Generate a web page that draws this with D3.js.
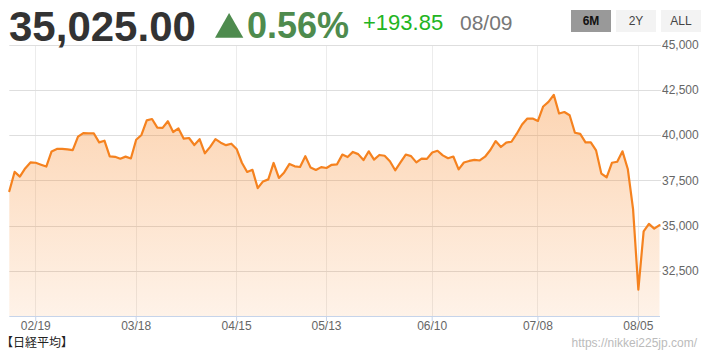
<!DOCTYPE html>
<html>
<head>
<meta charset="utf-8">
<script src="https://cdn.jsdelivr.net/npm/d3@7"></script>
<style>
html,body{margin:0;padding:0;background:#fff;}
svg{display:block;font-family:"Liberation Sans",Arial,sans-serif;}
</style>
</head>
<body>
<svg id="chart" width="710" height="351"></svg>
<script>
// ---- data (Nikkei 225 closes, 2024) ----
const dates = [
"02/09","02/13","02/14","02/15","02/16","02/19","02/20","02/21","02/22","02/26","02/27","02/28","02/29",
"03/01","03/04","03/05","03/06","03/07","03/08","03/11","03/12","03/13","03/14","03/15","03/18","03/19",
"03/21","03/22","03/25","03/26","03/27","03/28","03/29",
"04/01","04/02","04/03","04/04","04/05","04/08","04/09","04/10","04/11","04/12","04/15","04/16","04/17",
"04/18","04/19","04/22","04/23","04/24","04/25","04/26","04/30",
"05/01","05/02","05/07","05/08","05/09","05/10","05/13","05/14","05/15","05/16","05/17","05/20","05/21",
"05/22","05/23","05/24","05/27","05/28","05/29","05/30","05/31",
"06/03","06/04","06/05","06/06","06/07","06/10","06/11","06/12","06/13","06/14","06/17","06/18","06/19",
"06/20","06/21","06/24","06/25","06/26","06/27","06/28",
"07/01","07/02","07/03","07/04","07/05","07/08","07/09","07/10","07/11","07/12","07/16","07/17","07/18",
"07/19","07/22","07/23","07/24","07/25","07/26","07/29","07/30","07/31",
"08/01","08/02","08/05","08/06","08/07","08/08","08/09"
];
const closes = [
36897,37963,37703,38157,38487,38470,38363,38262,39098,39233,39239,39208,39166,
39910,40109,40097,40090,39598,39688,38820,38797,38695,38807,38707,39740,40004,
40815,40888,40414,40398,40762,40168,40369,
39803,39838,39451,39773,38992,39347,39773,39581,39442,39523,39232,38471,37961,
38079,37068,37438,37552,38460,37628,37934,38405,
38274,38236,38835,38202,38073,38229,38179,38356,38385,38920,38787,39069,38946,
38617,39103,38646,38900,38855,38556,38054,38487,
38923,38837,38490,38703,38683,39038,39134,38876,38720,38814,38102,38482,38570,
38633,38596,38804,39173,39667,39341,39583,
39631,40074,40580,40913,40912,40780,41580,41831,42224,41190,41275,41097,40126,
40063,39599,39594,39154,37869,37667,38468,38525,39101,
38126,35909,31458,34675,35089,34831,35025
];
const xTicks = ["02/19","03/18","04/15","05/13","06/10","07/08","08/05"];
const yTicks = [32500,35000,37500,40000,42500,45000];
const yDomain = [30000,45000];
const headline = {price:"35,025.00", pct:"0.56%", change:"+193.85", date:"08/09"};
const buttons = ["6M","2Y","ALL"];
const source = "【日経平均】";
const url = "https://nikkei225jp.com/";

// ---- layout ----
const svg = d3.select("#chart");
const x = d3.scalePoint().domain(dates).range([9.3, 659.5]);
const y = d3.scaleLinear().domain(yDomain).range([316, 44.6]);
const plotL = 9.3, plotR = 660;

// gradient
const defs = svg.append("defs");
const grad = defs.append("linearGradient").attr("id","ag")
  .attr("gradientUnits","userSpaceOnUse").attr("x1",0).attr("x2",0)
  .attr("y1",y(45000)).attr("y2",y(30000));
grad.append("stop").attr("offset","0%").attr("stop-color","#f7821e").attr("stop-opacity",0.40);
grad.append("stop").attr("offset","100%").attr("stop-color","#f7821e").attr("stop-opacity",0.10);

// vertical gridlines
svg.append("g").selectAll("line").data(xTicks).join("line")
  .attr("x1",d=>x(d)).attr("x2",d=>x(d))
  .attr("y1",y(45000)).attr("y2",y(30000))
  .attr("stroke","#ececec").attr("stroke-width",1).attr("shape-rendering","crispEdges");

// horizontal gridlines
svg.append("g").selectAll("line").data(yTicks).join("line")
  .attr("x1",plotL).attr("x2",661)
  .attr("y1",d=>Math.round(y(d))+0.5).attr("y2",d=>Math.round(y(d))+0.5)
  .attr("stroke","#dedede").attr("stroke-width",1);

// area
const area = d3.area().x((d,i)=>x(dates[i])).y0(y(30000)).y1(d=>y(d));
svg.append("path").datum(closes).attr("d",area).attr("fill","url(#ag)");

// x axis line + ticks
svg.append("line").attr("x1",plotL).attr("x2",plotR)
  .attr("y1",316.5).attr("y2",316.5).attr("stroke","#c6d4ea").attr("stroke-width",1);
svg.append("g").selectAll("line").data(xTicks).join("line")
  .attr("x1",d=>x(d)).attr("x2",d=>x(d)).attr("y1",316).attr("y2",321)
  .attr("stroke","#c6d4ea").attr("stroke-width",1);

// line
const line = d3.line().x((d,i)=>x(dates[i])).y(d=>y(d));
svg.append("path").datum(closes).attr("d",line)
  .attr("fill","none").attr("stroke","#f5821f").attr("stroke-width",2.2)
  .attr("stroke-linejoin","round").attr("stroke-linecap","round");

// y labels
const fmt = d3.format(",");
svg.append("g").selectAll("text").data(yTicks).join("text")
  .attr("x",662).attr("y",d=>y(d)).attr("dy","0.35em")
  .attr("font-size",12).attr("fill","#666").text(d=>fmt(d));

// x labels
svg.append("g").selectAll("text").data(xTicks).join("text")
  .attr("x",d=>x(d)).attr("y",330).attr("text-anchor","middle")
  .attr("font-size",12).attr("fill","#666").text(d=>d);

// header
svg.append("text").attr("x",9).attr("y",41).attr("font-size",42).attr("font-weight","bold")
  .attr("fill","#333").text(headline.price);
svg.append("path").attr("d","M215,37.7L243.3,37.7L229.1,13Z").attr("fill","#4e8b4e");
svg.append("text").attr("x",247).attr("y",38).attr("font-size",36).attr("font-weight","bold")
  .attr("fill","#4e8b4e").text(headline.pct);
svg.append("text").attr("x",363).attr("y",30).attr("font-size",22)
  .attr("fill","#22b422").text(headline.change);
svg.append("text").attr("x",460).attr("y",30).attr("font-size",21)
  .attr("fill","#777").text(headline.date);

// buttons
const bx = [571,616,661];
const bg = svg.append("g").selectAll("g").data(buttons).join("g")
  .attr("transform",(d,i)=>`translate(${bx[i]},10)`);
bg.append("rect").attr("width",40).attr("height",22)
  .attr("fill",(d,i)=>i===0?"#999":"#f3f3f3");
bg.append("text").attr("x",20).attr("y",15).attr("text-anchor","middle")
  .attr("font-size",12).attr("font-weight",(d,i)=>i===0?"bold":"normal")
  .attr("fill",(d,i)=>i===0?"#111":"#444").text(d=>d);

// footer
svg.append("text").attr("x",1).attr("y",347).attr("font-size",12)
  .attr("font-family","'Noto Sans CJK JP',sans-serif").attr("fill","#222").text(source);
svg.append("text").attr("x",697).attr("y",347).attr("text-anchor","end").attr("font-size",12)
  .attr("fill","#bbb").text(url);
</script>
</body>
</html>
